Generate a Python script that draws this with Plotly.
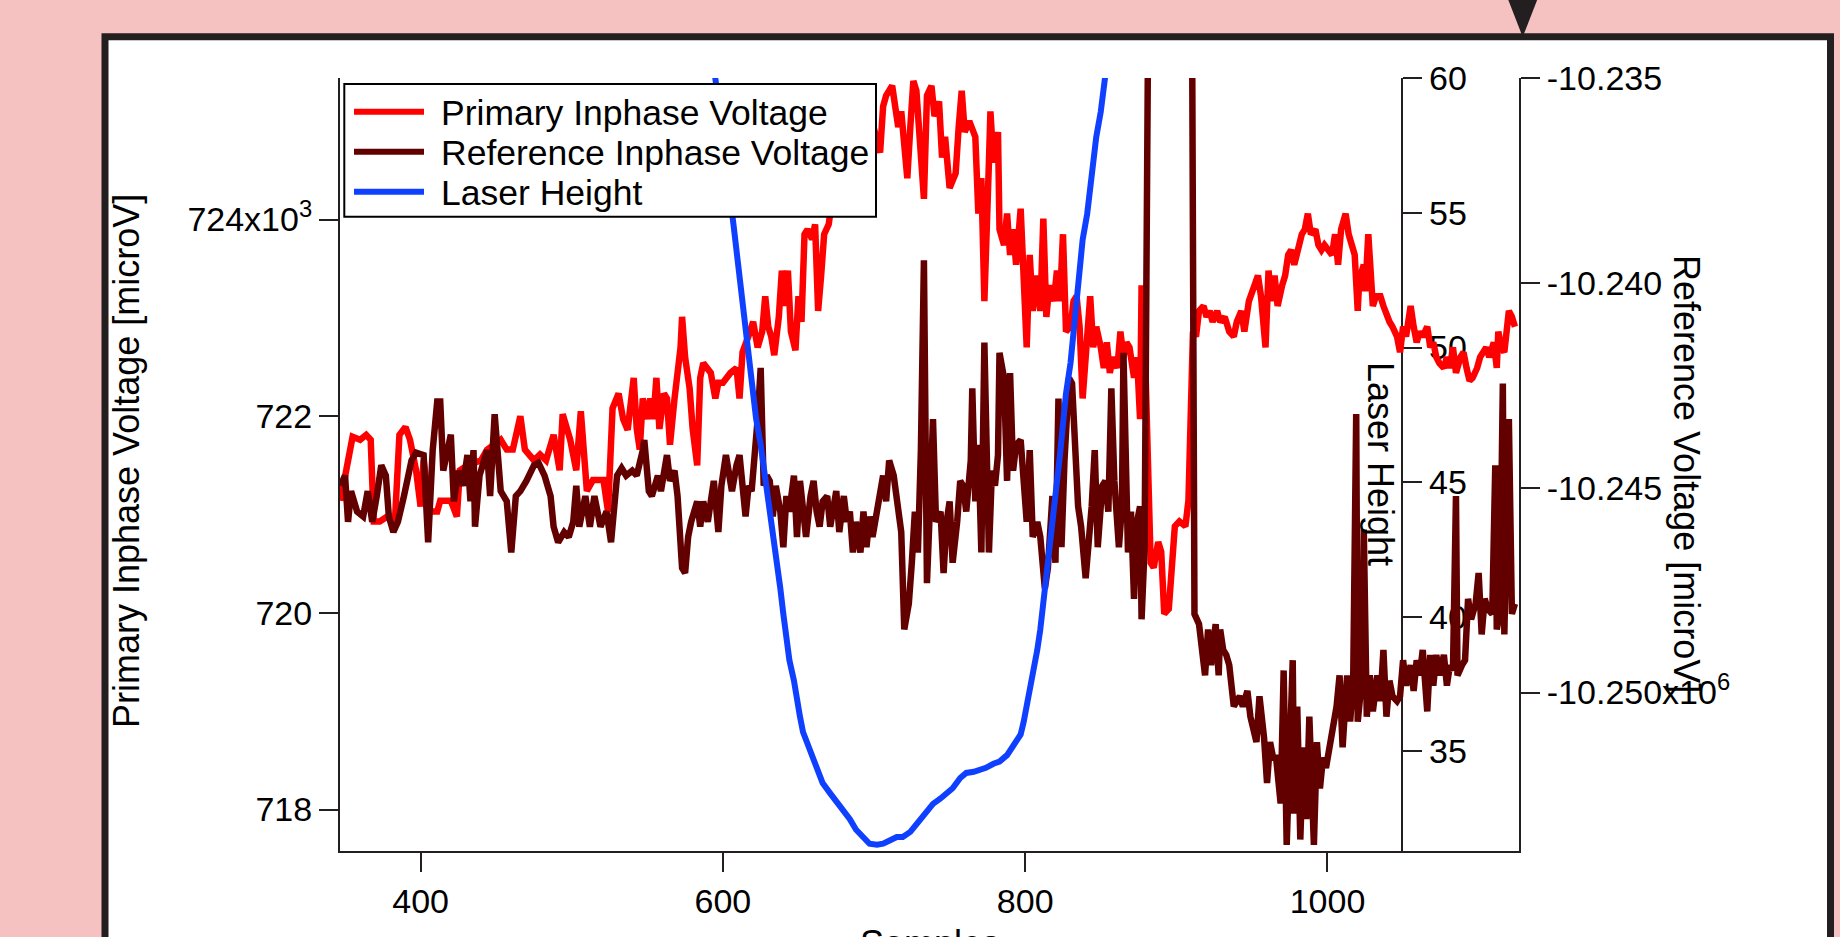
import plotly.graph_objects as go

# ---------------- data ----------------
x_tick_values = [400, 600, 800, 1000]
left_tick_values = [718, 720, 722, 724]
left_tick_text = ["718", "720", "722", "724x10<sup>3</sup>"]
right_tick_values = [-10.250, -10.245, -10.240, -10.235]
right_tick_text = ["-10.250x10<sup>6</sup>", "-10.245", "-10.240", "-10.235"]
laser_tick_values = [35, 40, 45, 50, 55, 60]

primary_samples = [
    347, 351, 355, 360, 364, 367, 369, 373, 378, 383, 386, 390, 393, 397, 400, 402, 406, 411, 413, 420,
    424, 426, 431, 440, 444, 453, 457, 461, 466, 469, 475, 479, 483, 488, 492, 494, 499, 503, 506, 510,
    514, 521, 524, 527, 531, 534, 537,
    541, 543, 545, 547, 550, 552, 554, 556, 558, 561, 563, 565, 568, 572, 573, 575, 578, 580, 583, 585,
    587, 590, 592, 595, 597, 600, 605, 609, 611, 613, 616, 618, 620, 623, 626, 628, 630, 632, 634, 637,
    639, 641, 643, 645, 648, 650, 652, 654, 656, 659, 661, 663, 665, 667, 670, 674, 680, 686, 692, 697,
    704, 706, 708, 712, 714, 716, 718, 722, 724, 726, 728, 730, 733, 735, 737,
    738, 740, 743, 745, 747, 750, 754, 756, 758, 760, 763, 767, 769, 771, 773, 776, 777, 779, 782, 783,
    786, 788, 790, 792, 794, 797, 799, 801, 803, 805, 808, 810, 812, 814, 816, 819, 821, 823, 825, 827,
    830, 832, 834, 836, 838, 841, 843, 845, 847, 850, 852, 854, 856, 858, 861, 863, 865, 867, 869, 872,
    874, 876, 877, 879, 883, 885, 888, 890, 892, 895, 897, 899, 902, 906, 908, 909, 911, 913, 915, 918,
    920, 922, 924, 927, 929,
    932, 935, 938, 940, 943, 945, 948, 950, 952, 954, 956, 959, 961, 963, 965, 967, 970, 972, 974, 976,
    978, 981, 983, 985, 987, 989, 992, 994, 996, 998, 1001, 1003, 1005, 1007, 1009, 1012, 1014, 1016,
    1018, 1020, 1021, 1024, 1025, 1027, 1029, 1030, 1032, 1035, 1037, 1039, 1041, 1043, 1046, 1048,
    1050, 1052, 1055, 1057, 1059, 1061, 1063, 1066, 1068, 1070, 1072, 1074, 1077, 1079, 1081, 1083,
    1085, 1088, 1090, 1092, 1094, 1096, 1099, 1101, 1103, 1105, 1107, 1110, 1112, 1113, 1115, 1117,
    1120, 1122, 1124,
]
primary_kuV = [
    721.14, 721.45, 721.79, 721.76, 721.81, 721.76, 720.93, 720.93, 720.98, 720.93, 721.81, 721.89, 721.76,
    721.45, 721.08, 721.55, 721.03, 721.03, 721.14, 721.14, 720.98, 721.45, 721.50, 721.55, 721.66, 721.76,
    721.66, 721.66, 722.00, 721.66, 721.55, 721.61, 721.55, 721.81, 721.45, 722.02, 721.76, 721.45, 722.05,
    721.24, 721.35, 721.35, 721.03, 722.08, 722.23, 721.97, 721.86,
    722.39, 721.87, 721.66, 722.18, 721.97, 722.18, 721.97, 722.39, 721.87, 722.23, 722.18, 721.71, 722.18,
    722.70, 723.01, 722.60, 722.28, 721.87, 721.50, 722.39, 722.54, 722.49, 722.44, 722.18, 722.34, 722.34,
    722.44, 722.49, 722.18, 722.65, 722.81, 722.86, 722.96, 722.70, 722.86, 723.22, 722.91, 722.81, 722.62,
    723.01, 723.48, 723.12, 723.48, 722.86, 722.67, 723.22, 722.96, 723.85, 723.90, 723.80, 723.95, 723.07,
    723.43, 723.85, 723.95, 724.40, 724.70, 724.90, 725.00, 725.10,
    724.68, 725.15, 725.26, 725.36, 725.15, 724.94, 725.10, 724.42, 724.94, 725.41, 725.31, 724.84, 724.21,
    725.26, 725.31,
    725.36, 725.05, 725.20, 724.63, 724.84, 724.32, 724.47, 724.94, 725.31, 724.89, 725.00, 724.84, 724.06,
    724.42, 723.17, 724.58, 725.10, 724.58, 724.89, 723.90, 723.74, 724.06, 723.64, 723.90, 723.54, 724.11,
    723.48, 722.70, 723.64, 723.07, 723.43, 723.07, 724.01, 723.01, 723.33, 723.17, 723.48, 723.17, 723.85,
    722.86, 722.91, 723.17, 723.22, 722.91, 722.18, 722.81, 723.22, 722.70, 722.91, 722.70, 722.49, 722.75,
    722.44, 722.60, 722.49, 722.86, 722.60, 722.75, 722.70, 722.39, 722.60, 721.97, 723.33, 722.81, 720.51,
    720.46, 720.72, 720.62, 719.99, 720.04, 720.51, 720.88, 720.93, 720.88, 721.14, 721.97, 722.86, 722.81,
    723.07, 723.12, 723.01, 723.07, 722.96, 723.07, 722.96,
    723.01, 722.86, 722.81, 722.96, 723.07, 722.86, 723.17, 723.27, 723.38, 723.43, 723.22, 722.70, 723.48,
    723.17, 723.43, 723.12, 723.33, 723.43, 723.64, 723.69, 723.54, 723.74, 723.85, 723.90, 724.06, 723.85,
    723.90, 723.74, 723.69, 723.74, 723.69, 723.64, 723.85, 723.54, 723.90, 724.06, 723.85, 723.74, 723.64,
    723.07, 723.38, 723.54, 723.27, 723.85, 723.43, 723.12, 723.22, 723.22, 723.12, 723.01, 722.96, 722.91,
    722.81, 722.65, 722.91, 722.81, 723.12, 722.91, 722.75, 722.86, 722.81, 722.91, 722.70, 722.75, 722.60,
    722.54, 722.49, 722.60, 722.49, 722.70, 722.44, 722.60, 722.65, 722.49, 722.36, 722.39, 722.49, 722.60,
    722.65, 722.70, 722.60, 722.75, 722.49, 722.86, 722.70, 722.65, 723.07, 723.01, 722.91,
]

reference_samples = [
    347, 350, 352, 354, 358, 362, 365, 368, 371, 374, 377, 379, 382, 385, 389, 391, 394, 397, 402, 405,
    408, 411, 413, 415, 420, 422, 425, 428, 431, 433, 435, 436, 439, 444, 446, 449, 453, 457, 460, 463,
    466, 470, 475, 478, 482, 486, 488, 491, 495, 498, 501, 503, 505, 509, 512, 515, 519, 523, 526, 530,
    533, 536, 540, 543, 545,
    547, 548, 551, 553, 555, 557, 559, 563, 565, 568, 570, 573, 575, 577, 579, 583, 585, 587, 590, 594,
    597, 599, 602, 606, 609, 611, 615, 617, 619, 621, 623, 625, 627, 629, 631, 633, 635, 638, 640, 642,
    644, 647, 649, 651, 653, 655, 658, 660, 662, 664, 666, 669, 671, 673, 675, 677, 680, 682, 684, 686,
    688, 691, 693, 695, 697, 699, 702, 704, 706, 708, 710, 713, 715, 718, 720, 723, 725, 727, 729, 731,
    733,
    735, 737, 739, 741, 744, 746, 748, 750, 752, 755, 757, 759, 761, 764, 765, 767, 769, 771, 773, 776,
    778, 780, 782, 783, 786, 788, 790, 792, 794, 797, 799, 801, 803, 805, 808, 810, 813, 815, 818, 820,
    822, 824, 826, 829, 831, 833, 835, 837, 840, 842, 844, 846, 848, 851, 853, 855, 857, 859, 862, 864,
    865, 868, 870, 872, 874, 876, 877, 879, 882, 910, 912, 915, 917, 919, 921, 923, 926, 928,
    929, 931, 933, 935, 938, 940, 942, 944, 947, 949, 951, 953, 955, 958, 960, 962, 964, 966, 969, 971,
    973, 975, 977, 978, 980, 982, 984, 986, 988, 991, 993, 995, 997, 999, 1002, 1004, 1006, 1008, 1010,
    1013, 1015, 1017, 1019, 1020, 1023, 1024, 1026, 1028, 1030, 1033, 1035, 1037, 1039, 1041, 1043,
    1046, 1048, 1050, 1052, 1055, 1057, 1059, 1061, 1063, 1066, 1068, 1070, 1072, 1074, 1077, 1079,
    1081, 1083, 1085, 1086, 1089, 1091, 1093, 1095, 1098, 1100, 1102, 1104, 1106, 1109, 1111, 1112,
    1114, 1116, 1117, 1120, 1122, 1124,
]
reference_MuV = [
    -10.24495, -10.24470, -10.24583, -10.24508, -10.24558, -10.24570, -10.24508, -10.24583, -10.24520,
    -10.24445, -10.24470, -10.24570, -10.24608, -10.24583, -10.24520, -10.24483, -10.24433, -10.24414,
    -10.24420, -10.24633, -10.24408, -10.24289, -10.24289, -10.24458, -10.24370, -10.24533, -10.24458,
    -10.24495, -10.24420, -10.24533, -10.24408, -10.24595, -10.24470, -10.24408, -10.24520, -10.24320,
    -10.24508, -10.24533, -10.24658, -10.24520, -10.24508, -10.24483, -10.24445, -10.24439, -10.24470,
    -10.24520, -10.24595, -10.24633, -10.24608, -10.24620, -10.24583, -10.24495, -10.24595, -10.24520,
    -10.24595, -10.24520, -10.24595, -10.24558, -10.24633, -10.24470, -10.24452, -10.24470, -10.24458,
    -10.24470, -10.24445,
    -10.24408, -10.24383, -10.24508, -10.24520, -10.24495, -10.24470, -10.24508, -10.24420, -10.24483,
    -10.24458, -10.24520, -10.24696, -10.24708, -10.24620, -10.24583, -10.24533, -10.24595, -10.24533,
    -10.24583, -10.24483, -10.24608, -10.24495, -10.24420, -10.24508, -10.24445, -10.24420, -10.24570,
    -10.24495, -10.24508, -10.24433, -10.24332, -10.24207, -10.24495, -10.24470, -10.24483, -10.24570,
    -10.24495, -10.24558, -10.24645, -10.24520, -10.24558, -10.24470, -10.24620, -10.24483, -10.24558,
    -10.24620, -10.24520, -10.24483, -10.24558, -10.24595, -10.24533, -10.24520, -10.24595, -10.24558,
    -10.24508, -10.24608, -10.24520, -10.24583, -10.24558, -10.24658, -10.24583, -10.24658, -10.24558,
    -10.24645, -10.24570, -10.24620, -10.24558, -10.24520, -10.24470, -10.24533, -10.24433, -10.24470,
    -10.24520, -10.24608, -10.24846, -10.24783, -10.24683, -10.24558, -10.24658, -10.24408, -10.23944,
    -10.24733, -10.24545, -10.24332, -10.24583, -10.24558, -10.24708, -10.24583, -10.24533, -10.24683,
    -10.24583, -10.24483, -10.24495, -10.24558, -10.24433, -10.24257, -10.24533, -10.24395, -10.24658,
    -10.24145, -10.24658, -10.24458, -10.24495, -10.24420, -10.24170, -10.24232, -10.24483, -10.24220,
    -10.24458, -10.24395, -10.24383, -10.24495, -10.24583, -10.24408, -10.24620, -10.24583, -10.24620,
    -10.24746, -10.24696, -10.24520, -10.24683, -10.24282, -10.24645, -10.24433, -10.24232, -10.24245,
    -10.24395, -10.24545, -10.24595, -10.24721, -10.24633, -10.24545, -10.24408, -10.24645, -10.24495,
    -10.24483, -10.24558, -10.24257, -10.24483, -10.24645, -10.24545, -10.24170, -10.24658, -10.24558,
    -10.24771, -10.24583, -10.24545, -10.24821, -10.24645, -10.23000, -10.23000, -10.24808, -10.24833,
    -10.24908, -10.24958, -10.24846, -10.24933, -10.24833, -10.24958,
    -10.24846, -10.24896, -10.24908, -10.24933, -10.25034, -10.25021, -10.25009, -10.25034, -10.24996,
    -10.25059, -10.25084, -10.25121, -10.25009, -10.25109, -10.25221, -10.25121, -10.25159, -10.25159,
    -10.25271, -10.24946, -10.25372, -10.25071, -10.24921, -10.25296, -10.25034, -10.25359, -10.25134,
    -10.25309, -10.25059, -10.25372, -10.25121, -10.25234, -10.25159, -10.25184, -10.25121, -10.25096,
    -10.25034, -10.24958, -10.25134, -10.24958, -10.25071, -10.24971, -10.24320, -10.25071, -10.24958,
    -10.24602, -10.25059, -10.24958, -10.25046, -10.24958, -10.25021, -10.24896, -10.25059, -10.24971,
    -10.25009, -10.25021, -10.25009, -10.24921, -10.24983, -10.24933, -10.24996, -10.24921, -10.24958,
    -10.24896, -10.25046, -10.24908, -10.24983, -10.24908, -10.24958, -10.24908, -10.24983, -10.24933,
    -10.24946, -10.24520, -10.24958, -10.24933, -10.24921, -10.24771, -10.24821, -10.24783, -10.24708,
    -10.24858, -10.24771, -10.24796, -10.24808, -10.24445, -10.24846, -10.24808, -10.24245, -10.24858,
    -10.24332, -10.24808, -10.24783,
]

laser_samples = [
    592, 595, 607, 609, 611, 614, 616, 618, 620, 622, 625, 627, 629, 631, 633, 636, 638, 640, 642, 644,
    647, 649, 651, 653, 658, 662, 666, 671, 675, 680, 684, 688, 693, 697, 702, 706, 710, 715, 719, 724,
    728, 733, 735, 739, 744, 748, 752, 757, 761, 766, 770, 774, 779, 783, 788, 792, 797, 799, 801, 803,
    805, 808, 810, 812, 814, 816, 819, 821, 823, 825, 827, 830, 832, 834, 836, 838, 841, 843, 845, 847,
    850, 852, 853, 855,
]
laser_height = [
    61.00, 60.00, 54.57, 53.62, 52.48, 51.34, 50.38, 49.24, 48.29, 47.34, 46.39, 45.62, 44.86, 43.91,
    42.96, 42.00, 41.05, 40.10, 39.15, 38.39, 37.63, 36.86, 36.29, 35.72, 34.96, 34.39, 33.82, 33.44,
    33.15, 32.86, 32.48, 32.10, 31.76, 31.57, 31.53, 31.57, 31.68, 31.82, 31.82, 32.01, 32.29, 32.67,
    32.77, 33.05, 33.25, 33.44, 33.63, 34.01, 34.20, 34.24, 34.29, 34.39, 34.54, 34.62, 34.86, 35.24,
    35.63, 36.10, 36.67, 37.24, 38.01, 38.77, 39.53, 40.48, 41.43, 42.58, 43.72, 44.86, 46.00, 47.15,
    48.29, 49.43, 50.58, 51.72, 52.86, 54.00, 54.96, 55.91, 56.86, 57.81, 58.76, 59.62, 60.00, 61.00,
]

series_names = ["Primary Inphase Voltage", "Reference Inphase Voltage", "Laser Height"]
series_colors = ["#ff0000", "#620000", "#1040ff"]

# ---------------- layout geometry (pixels of the 1840x937 page) ----------------
FIG_W, FIG_H = 1840, 937
L, R, T, B = 340, 1519, 78, 851
FONT = "Liberation Sans, Arial, Helvetica, sans-serif"
INK = "#231f20"


def pxx(xp):
    return (xp - L) / (R - L)


def pxy(yp):
    return (B - yp) / (B - T)


fig = go.Figure()
fig.add_trace(go.Scatter(x=primary_samples, y=primary_kuV, mode="lines", name=series_names[0],
                         line=dict(color=series_colors[0], width=6.5), yaxis="y", showlegend=False))
fig.add_trace(go.Scatter(x=reference_samples, y=reference_MuV, mode="lines", name=series_names[1],
                         line=dict(color=series_colors[1], width=6.5), yaxis="y2", showlegend=False))
fig.add_trace(go.Scatter(x=laser_samples, y=laser_height, mode="lines", name=series_names[2],
                         line=dict(color=series_colors[2], width=6), yaxis="y3", showlegend=False))

axis_style = dict(showline=True, linecolor=INK, linewidth=2, ticks="outside", ticklen=19, tickwidth=2,
                  tickcolor=INK, showgrid=False, zeroline=False,
                  tickfont=dict(family=FONT, size=34, color="black"), layer="below traces")

fig.update_layout(
    width=FIG_W, height=FIG_H, autosize=False,
    margin=dict(l=L, r=FIG_W - R, t=T, b=FIG_H - B, pad=0),
    paper_bgcolor="#f5c1c1", plot_bgcolor="rgba(0,0,0,0)",
    showlegend=False,
    xaxis=dict(range=[346.68, 1126.7], tickvals=x_tick_values, **axis_style),
    yaxis=dict(range=[717.578, 725.439], tickvals=left_tick_values, ticktext=left_tick_text, **axis_style),
    yaxis2=dict(range=[-10.25387, -10.23499], tickvals=right_tick_values, ticktext=right_tick_text,
                overlaying="y", side="right", anchor="x", **axis_style),
    yaxis3=dict(range=[31.30, 60.01], tickvals=laser_tick_values, overlaying="y", side="right",
                anchor="free", position=pxx(1402.3), **axis_style),
)

shapes = [
    # window frame
    dict(type="rect", xref="paper", yref="paper", x0=pxx(105), x1=pxx(1830.5), y0=pxy(1000), y1=pxy(36.8),
         line=dict(color=INK, width=7), fillcolor="white", layer="below"),
    # pointer triangle
    dict(type="path", xref="paper", yref="paper",
         path=f"M {pxx(1506)},{pxy(-6)} L {pxx(1539.5)},{pxy(-6)} L {pxx(1522.7)},{pxy(37)} Z",
         fillcolor=INK, line=dict(width=0), layer="below"),
    # legend box
    dict(type="rect", xref="paper", yref="paper", x0=pxx(344.3), x1=pxx(876), y0=pxy(216.7), y1=pxy(84),
         line=dict(color="black", width=2), fillcolor="white", layer="above"),
]
annotations = []
legend_rows = [111.7, 151.7, 191.7]
for name, color, row in zip(series_names, series_colors, legend_rows):
    shapes.append(dict(type="line", xref="paper", yref="paper", x0=pxx(354), x1=pxx(424), y0=pxy(row),
                       y1=pxy(row), line=dict(color=color, width=6), layer="above"))
    annotations.append(dict(text=name, xref="paper", yref="paper", x=pxx(438.5), y=pxy(row + 1),
                            xanchor="left", yanchor="middle", showarrow=False,
                            font=dict(family=FONT, size=35.5, color="black")))

title_font = dict(family=FONT, size=36, color="black")
annotations += [
    dict(text="Primary Inphase Voltage [microV]", xref="paper", yref="paper", x=pxx(126), y=pxy(461),
         textangle=-90, xanchor="center", yanchor="middle", showarrow=False, font=title_font),
    dict(text="Laser Height", xref="paper", yref="paper", x=pxx(1381), y=pxy(464),
         textangle=90, xanchor="center", yanchor="middle", showarrow=False, font=title_font),
    dict(text="Reference Voltage [microV]", xref="paper", yref="paper", x=pxx(1686), y=pxy(474),
         textangle=90, xanchor="center", yanchor="middle", showarrow=False, font=title_font),
    dict(text="Samples", xref="paper", yref="paper", x=pxx(930), y=pxy(921),
         xanchor="center", yanchor="top", showarrow=False, font=title_font),
]
fig.update_layout(shapes=shapes, annotations=annotations)

fig.write_html("out.html", config={"displayModeBar": False},
               post_script="document.body.style.margin='0';document.body.style.padding='0';"
                           "document.documentElement.style.overflow='hidden';")
